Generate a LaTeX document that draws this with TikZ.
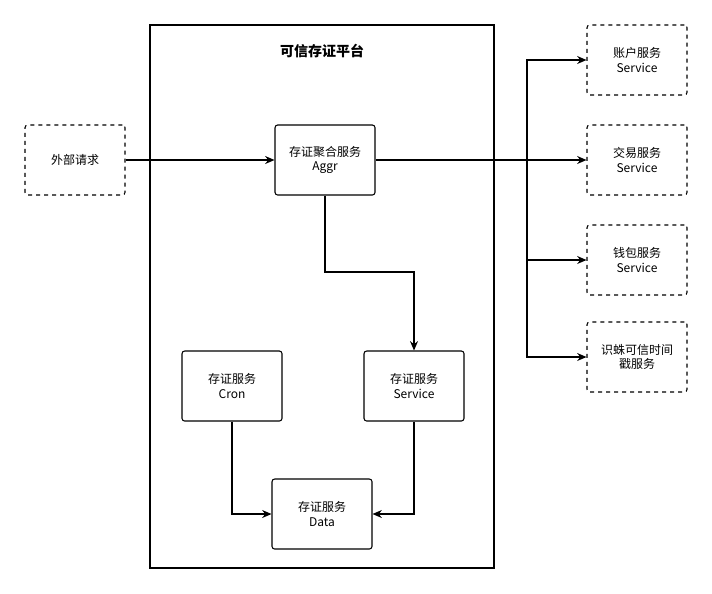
\documentclass[tikz,border=0pt]{standalone}
\usepackage{fontspec}
\setmainfont{Noto Sans CJK SC}
\usetikzlibrary{arrows.meta}
\begin{document}
\begin{tikzpicture}[x=0.75pt,y=-0.75pt,
    box/.style={draw,thick,rounded corners=2pt,minimum width=75pt,minimum height=52.5pt,align=center,font=\fontsize{9}{11}\selectfont,inner sep=1pt},
    dbox/.style={box,dashed},
    arr/.style={-{Stealth[length=7pt,width=6pt]},thick}]
    \useasboundingbox (0,0) rectangle (712,593);
    \draw[thick] (150,25) rectangle (494,568);
    \node (title) at (322,51) {\fontsize{10.5}{12}\selectfont\bfseries 可信存证平台};
    \node[dbox] (ext) at (75,160) {外部请求};
    \node[box] (aggr) at (325,160) {存证聚合服务\\Aggr};
    \node[box] (cron) at (232,386) {存证服务\\Cron};
    \node[box] (svc) at (414,386) {存证服务\\Service};
    \node[box] (data) at (322,514) {存证服务\\Data};
    \node[dbox] (acct) at (637,60) {账户服务\\Service};
    \node[dbox] (trade) at (637,160) {交易服务\\Service};
    \node[dbox] (wallet) at (637,260) {钱包服务\\Service};
    \node[dbox] (tsa) at (637,357) {识蛛可信时间\\戳服务};
    \coordinate (bus) at (527,160);

    \draw[arr] (ext) -- (aggr);
    \draw[thick] (aggr) -- (bus);
    \draw[arr] (bus) -- (trade);
    \draw[arr] (bus) |- (acct);
    \draw[arr] (bus) |- (wallet);
    \draw[arr] (bus) |- (tsa);
    \draw[arr] (aggr.south) -- (325,272) -| (svc.north);
    \draw[arr] (cron.south) |- (data.west);
    \draw[arr] (svc.south) |- (data.east);
\end{tikzpicture}
\end{document}
